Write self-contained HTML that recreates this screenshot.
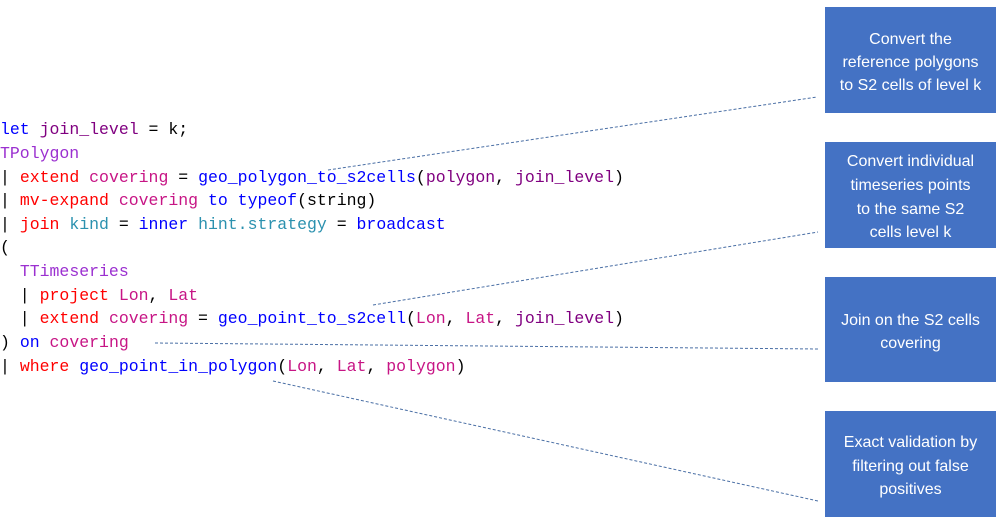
<!DOCTYPE html>
<html><head><meta charset="utf-8"><style>
body{margin:0;width:998px;height:520px;background:#fff;position:relative;overflow:hidden}
.code{position:absolute;left:0;top:0;font-family:"Liberation Mono",monospace;font-size:16.5px;white-space:pre;color:#000}
.code div{position:absolute;left:0;height:20px;line-height:20px}
.b{color:#0000ff}.p{color:#800080}.t{color:#9b30d0}.r{color:#ff0000}.m{color:#c71585}.c{color:#2b91af}
.box{position:absolute;background:#4472c4;color:#fff;font-family:"Liberation Sans",sans-serif;font-size:16px;text-align:center}
.box div{position:absolute;left:-4px;right:-4px;height:20px;line-height:20px}
</style></head><body>
<div class="code">
<div style="top:120px"><span class="b">let</span> <span class="p">join_level</span> = k;</div>
<div style="top:144px"><span class="t">TPolygon</span></div>
<div style="top:168px">| <span class="r">extend</span> <span class="m">covering</span> = <span class="b">geo_polygon_to_s2cells</span>(<span class="p">polygon</span>, <span class="p">join_level</span>)</div>
<div style="top:191px">| <span class="r">mv-expand</span> <span class="m">covering</span> <span class="b">to typeof</span>(string)</div>
<div style="top:215px">| <span class="r">join</span> <span class="c">kind</span> = <span class="b">inner</span> <span class="c">hint.strategy</span> = <span class="b">broadcast</span></div>
<div style="top:238px">(</div>
<div style="top:262px">  <span class="t">TTimeseries</span></div>
<div style="top:286px">  | <span class="r">project</span> <span class="m">Lon</span>, <span class="m">Lat</span></div>
<div style="top:309px">  | <span class="r">extend</span> <span class="m">covering</span> = <span class="b">geo_point_to_s2cell</span>(<span class="m">Lon</span>, <span class="m">Lat</span>, <span class="p">join_level</span>)</div>
<div style="top:333px">) <span class="b">on</span> <span class="m">covering</span></div>
<div style="top:357px">| <span class="r">where</span> <span class="b">geo_point_in_polygon</span>(<span class="m">Lon</span>, <span class="m">Lat</span>, <span class="m">polygon</span>)</div>
</div>
<svg width="998" height="520" style="position:absolute;left:0;top:0">
<g stroke="#4a6fa5" stroke-width="1" stroke-dasharray="3,2" fill="none">
<line x1="328" y1="170" x2="817" y2="97"/>
<line x1="373" y1="305" x2="818" y2="232"/>
<line x1="155" y1="343" x2="819" y2="349"/>
<line x1="273" y1="381" x2="818" y2="501"/>
</g></svg>
<div class="box" style="left:825px;top:7px;width:171px;height:106px">
<div style="top:23px">Convert the</div><div style="top:46px">reference polygons</div><div style="top:69px">to S2 cells of level k</div></div>
<div class="box" style="left:825px;top:142px;width:171px;height:106px">
<div style="top:10px">Convert individual</div><div style="top:34px">timeseries points</div><div style="top:58px">to the same S2</div><div style="top:81px">cells level k</div></div>
<div class="box" style="left:825px;top:277px;width:171px;height:105px">
<div style="top:34px">Join on the S2 cells</div><div style="top:57px">covering</div></div>
<div class="box" style="left:825px;top:411px;width:171px;height:106px">
<div style="top:22px">Exact validation by</div><div style="top:46px">filtering out false</div><div style="top:69px">positives</div></div>
</body></html>
